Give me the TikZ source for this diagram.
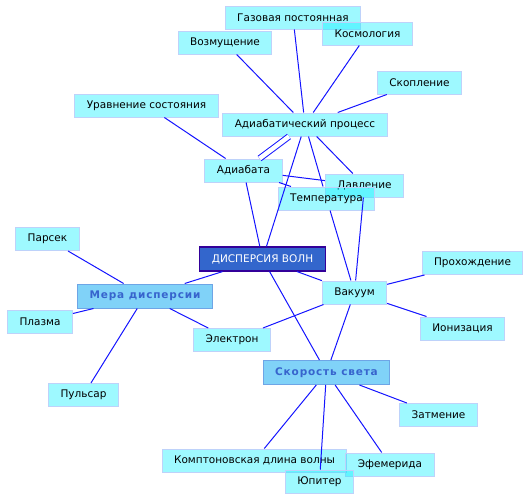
\documentclass[tikz,border=0pt]{standalone}
\usepackage{fontspec}
\setmainfont{DejaVu Sans}
\newfontfamily\hubfont[LetterSpace=8]{DejaVu Sans Bold}
\usepackage{tikz}
\definecolor{linkblue}{RGB}{20,20,255}
\definecolor{termfill}{RGB}{0,238,255}
\definecolor{termline}{RGB}{190,210,250}
\definecolor{rootfill}{RGB}{51,102,204}
\definecolor{rootline}{RGB}{51,0,153}
\definecolor{hubfill}{RGB}{128,210,248}
\definecolor{hubline}{RGB}{110,165,230}
\definecolor{hubtext}{RGB}{55,100,205}
\begin{document}
\begin{tikzpicture}[x=1pt,y=-1pt,line width=1pt,
  term/.style={draw=termline,fill=termfill,fill opacity=0.38,text opacity=1,
    minimum height=23pt,inner xsep=12pt,font=\fontsize{10.5}{12}\selectfont},
  root/.style={draw=rootline,fill=rootfill,text=white,line width=1.2pt,
    minimum height=24pt,inner xsep=12pt,font=\fontsize{10.5}{12}\selectfont},
  hub/.style={draw=hubline,fill=hubfill,text=hubtext,
    minimum height=24pt,inner xsep=12pt,font=\fontsize{10.5}{12}\hubfont},
  link/.style={draw=linkblue}]
\useasboundingbox (0,0) rectangle (529,501);
\node[term] (gas) at (293.0,17.5) {Газовая постоянная};
\node[term] (voz) at (225.0,42.5) {Возмущение};
\node[term] (kosm) at (367.5,33.5) {Космология};
\node[term] (skop) at (419.5,82.5) {Скопление};
\node[term] (urav) at (146.5,105.5) {Уравнение состояния};
\node[term] (adp) at (305.0,124.5) {Адиабатический процесс};
\node[term] (adb) at (243.5,170.5) {Адиабата};
\node[term] (davl) at (364.5,185.5) {Давление};
\node[term] (temp) at (326.5,198.5) {Температура};
\node[term] (pars) at (47.5,239.0) {Парсек};
\node[root] (disp) at (262.5,259.0) {ДИСПЕРСИЯ ВОЛН};
\node[term] (proh) at (472.5,263.0) {Прохождение};
\node[hub] (mera) at (145.0,296.0) {Мера дисперсии};
\node[term] (vak) at (354.5,292.5) {Вакуум};
\node[term] (plaz) at (40.0,321.5) {Плазма};
\node[term] (ion) at (462.5,328.5) {Ионизация};
\node[term] (elek) at (232.0,340.0) {Электрон};
\node[term] (puls) at (83.5,395.0) {Пульсар};
\node[hub] (skor) at (326.5,372.5) {Скорость света};
\node[term] (zatm) at (438.5,415.0) {Затмение};
\node[term] (komp) at (254.5,460.5) {Комптоновская длина волны};
\node[term] (efem) at (390.0,464.5) {Эфемерида};
\node[term] (yup) at (319.5,481.5) {Юпитер};
\draw[link] (adp) -- (gas) (adp) -- (voz) (adp) -- (kosm) (adp) -- (skop);
\draw[link] (adp) -- (disp) (adp) -- (temp) (adp) -- (davl);
\draw[link,double=white,double distance=4.5pt] (adp) -- (adb);
\draw[link] (adb) -- (urav) (adb) -- (davl) (adb) -- (temp) (adb) -- (disp);
\draw[link] (temp) -- (vak) (davl) -- (vak);
\draw[link] (disp) -- (mera) (disp) -- (vak) (disp) -- (skor);
\draw[link] (mera) -- (pars) (mera) -- (plaz) (mera) -- (puls) (mera) -- (elek);
\draw[link] (vak) -- (proh) (vak) -- (ion) (vak) -- (elek) (vak) -- (skor);
\draw[link] (skor) -- (zatm) (skor) -- (komp) (skor) -- (yup) (skor) -- (efem);
\end{tikzpicture}
\end{document}
